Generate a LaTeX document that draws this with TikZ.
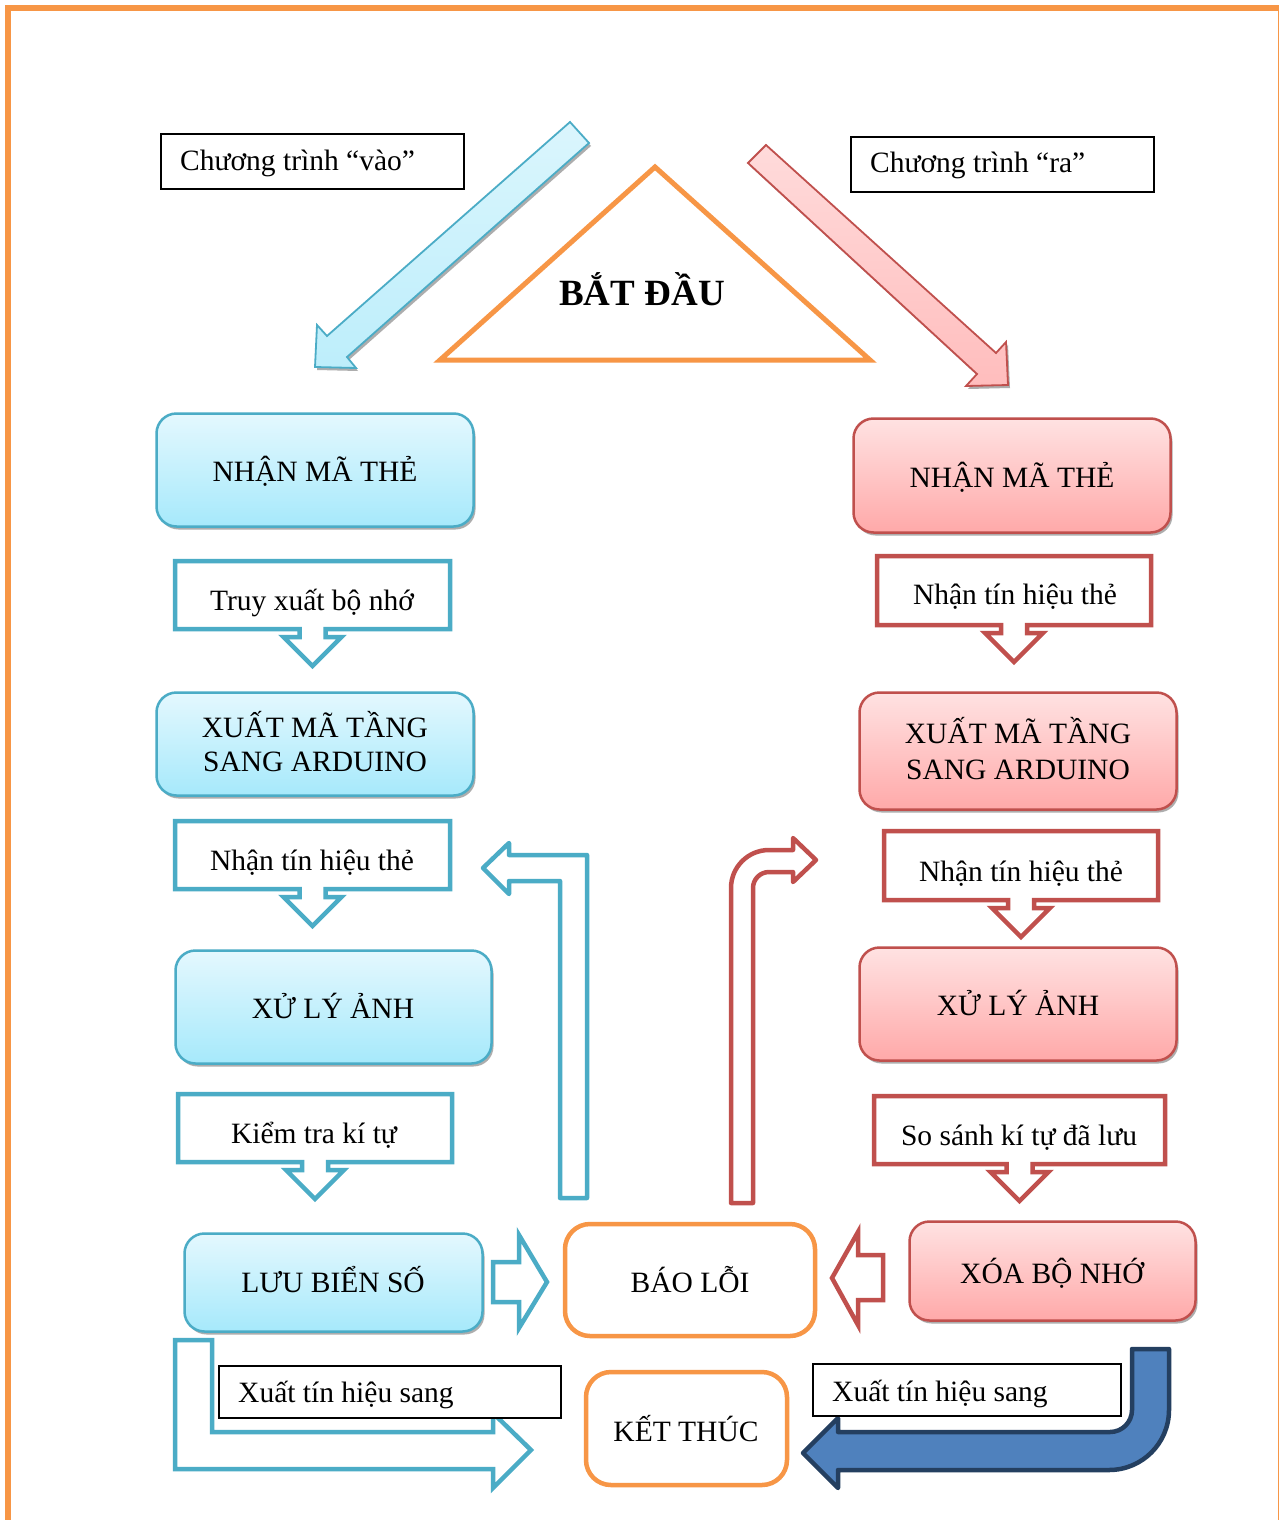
\documentclass[tikz,border=0pt]{standalone}
\usepackage{fontspec}
\setmainfont{Liberation Serif}
\usetikzlibrary{shadows}
\definecolor{cblue}{HTML}{4BACC6}
\definecolor{cred}{HTML}{C0504D}
\definecolor{corange}{HTML}{F79646}
\definecolor{navyfill}{HTML}{4F81BD}
\definecolor{navyline}{HTML}{243F60}
\definecolor{bluetop}{HTML}{E4F8FE}
\definecolor{bluebot}{HTML}{A6E9FB}
\definecolor{redtop}{HTML}{FFE2E2}
\definecolor{redbot}{HTML}{FFA9A9}
\definecolor{diagblue}{HTML}{BDEEFB}
\definecolor{diagred}{HTML}{FFBDBD}

% down-pointing callout: colour, left, top, right, bottom (line centres)
\newcommand\dncall[5]{%
  \draw[#1, line width=4.5pt, fill=white, line join=miter]
    (#2,#3) -- (#4,#3) -- (#4,#5) -- ({(#2+#4)/2+13},#5) -- ++(0,8) -- ++(16,0)
    -- ({(#2+#4)/2},{#5+37}) -- ({(#2+#4)/2-29},{#5+8}) -- ++(16,0) -- ++(0,-8)
    -- (#2,#5) -- cycle;}

\begin{document}
\begin{tikzpicture}[x=1pt,y=-1pt,
  txt/.style={font=\fontsize{29.5}{35}\selectfont, inner sep=0pt},
  shadowed/.style={drop shadow={shadow xshift=2pt,shadow yshift=-3pt,fill=black!40,opacity=.8}},
  bluebox/.style={draw=cblue, line width=2.5pt, rounded corners=20pt,
    top color=bluetop, bottom color=bluebot, shadowed},
  redbox/.style={draw=cred, line width=2.5pt, rounded corners=20pt,
    top color=redtop, bottom color=redbot, shadowed},
  endbox/.style={draw=corange, line width=4.5pt, rounded corners=25pt, fill=white},
  labelbox/.style={draw=black, line width=1.8pt, fill=white},
  hollowblue/.style={draw=cblue, line width=4.5pt, fill=white, line join=round},
  hollowred/.style={draw=cred, line width=4.5pt, fill=white, line join=round}]

\useasboundingbox (0,0) rectangle (1278,1520);
\fill[white] (0,0) rectangle (1278,1520);

% page frame
\draw[corange, line width=6pt] (8,8) rectangle (1281,1545);

% start triangle
\draw[corange, line width=5pt, line join=miter] (655,167) -- (870,360) -- (440,360) -- cycle;
\node[font=\fontsize{37}{40}\selectfont\bfseries, anchor=base, inner sep=0pt] (start) at (642,305) {BẮT ĐẦU};

% program labels
\node[labelbox, minimum width=303pt, minimum height=55pt, inner sep=0pt] (vaobox) at (312.5,161.5) {};
\node[txt, anchor=base west] (vao) at (180,170) {Chương trình “vào”};
\node[labelbox, minimum width=303pt, minimum height=55pt, inner sep=0pt] (rabox) at (1002.5,164.5) {};
\node[txt, anchor=base west] (ra) at (870,172) {Chương trình “ra”};

% diagonal entry arrows
\draw[cblue, line width=1.8pt, top color=diagblue!55, bottom color=diagblue, shadowed, line join=miter]
  (570,122) -- (589,143) -- (347,357) -- (356,368) -- (315,367) -- (317,325) -- (327,336) -- cycle;
\draw[cred, line width=1.8pt, top color=diagred!55, bottom color=diagred, shadowed, line join=miter]
  (766,145) -- (996,353) -- (1006,342) -- (1008,385) -- (966,386) -- (977,374) -- (748,163) -- cycle;

% left column
\node[bluebox, minimum width=317pt, minimum height=113pt] (l1) at (315,470) {};
\node[txt, anchor=base] (l1t) at (315,481) {NHẬN MÃ THẺ};
\dncall{cblue}{175}{561}{450}{629}
\node[txt, anchor=base] (l2t) at (312,610) {Truy xuất bộ nhớ};
\node[bluebox, minimum width=317pt, minimum height=103pt] (l3) at (315,744) {};
\node[txt, anchor=base] (l3a) at (315,737) {XUẤT MÃ TẦNG};
\node[txt, anchor=base] (l3b) at (315,771) {SANG ARDUINO};
\dncall{cblue}{175}{821}{450}{889}
\node[txt, anchor=base] (l4t) at (312,870) {Nhận tín hiệu thẻ};
\node[bluebox, minimum width=316pt, minimum height=113pt] (l5) at (333.5,1007) {};
\node[txt, anchor=base] (l5t) at (333,1018) {XỬ LÝ ẢNH};
\dncall{cblue}{178}{1094}{452}{1162}
\node[txt, anchor=base] (l6t) at (314,1143) {Kiểm tra kí tự};
\node[bluebox, minimum width=298pt, minimum height=98pt] (l7) at (333.5,1282.5) {};
\node[txt, anchor=base] (l7t) at (333,1292) {LƯU BIỂN SỐ};

% right column
\node[redbox, minimum width=317pt, minimum height=114pt] (r1) at (1012,475.5) {};
\node[txt, anchor=base] (r1t) at (1012,487) {NHẬN MÃ THẺ};
\dncall{cred}{877}{556}{1151}{625}
\node[txt, anchor=base] (r2t) at (1015,604) {Nhận tín hiệu thẻ};
\node[redbox, minimum width=317pt, minimum height=117pt] (r3) at (1018,751) {};
\node[txt, anchor=base] (r3a) at (1018,743) {XUẤT MÃ TẦNG};
\node[txt, anchor=base] (r3b) at (1018,779) {SANG ARDUINO};
\dncall{cred}{884}{831}{1158}{900}
\node[txt, anchor=base] (r4t) at (1021,881) {Nhận tín hiệu thẻ};
\node[redbox, minimum width=317pt, minimum height=113pt] (r5) at (1018,1004) {};
\node[txt, anchor=base] (r5t) at (1018,1015) {XỬ LÝ ẢNH};
\dncall{cred}{874}{1096}{1165}{1164}
\node[txt, anchor=base] (r6t) at (1019,1145) {So sánh kí tự đã lưu};
\node[redbox, minimum width=286pt, minimum height=99pt] (r7) at (1052.5,1271) {};
\node[txt, anchor=base] (r7t) at (1052,1283) {XÓA BỘ NHỚ};

% error and end boxes
\node[endbox, minimum width=250pt, minimum height=112pt] (err) at (690,1280) {};
\node[txt, anchor=base] (errt) at (690,1292) {BÁO LỖI};
\node[endbox, minimum width=201pt, minimum height=113pt] (fin) at (686.5,1428.5) {};
\node[txt, anchor=base] (fint) at (686,1441) {KẾT THÚC};

% return arrows from the error box
\draw[hollowblue] (587,1198) -- (587,855) -- (509,855) -- (509,843) -- (483,868)
  -- (509,894) -- (509,881) -- (560,881) -- (560,1198) -- cycle;
\draw[hollowred] (731,1203) [rounded corners=38pt] -- (731,850) [sharp corners] -- (793,850)
  -- (793,838) -- (816,860) -- (793,882) -- (793,872) [rounded corners=16pt] -- (753,872)
  [sharp corners] -- (753,1203) -- cycle;

% arrows into the error box
\draw[hollowblue, line join=miter] (493,1262) -- (519,1262) -- (519,1235) -- (547,1282)
  -- (519,1328) -- (519,1302) -- (493,1302) -- cycle;
\draw[hollowred, line join=miter] (883,1255) -- (858,1255) -- (858,1232) -- (832,1278)
  -- (858,1325) -- (858,1300) -- (883,1300) -- cycle;

% arrows into the end box
\draw[hollowblue, line join=miter] (175,1340) -- (212,1340) -- (212,1432) -- (493,1432)
  -- (493,1413) -- (531,1450) -- (493,1488) -- (493,1469) -- (175,1469) -- cycle;
\draw[navyline, line width=4.5pt, fill=navyfill, line join=round]
  (1169,1349) [rounded corners=60pt] -- (1169,1470) [sharp corners] -- (838,1470)
  -- (838,1488) -- (803,1453) -- (838,1418) -- (838,1432) [rounded corners=22pt]
  -- (1132,1432) [sharp corners] -- (1132,1349) -- cycle;

\node[labelbox, minimum width=342pt, minimum height=52pt, inner sep=0pt] (xlbox) at (390,1392) {};
\node[txt, anchor=base west] (xl) at (238,1402) {Xuất tín hiệu sang};
\node[labelbox, minimum width=308pt, minimum height=52pt, inner sep=0pt] (xrbox) at (967,1390) {};
\node[txt, anchor=base west] (xr) at (832,1401) {Xuất tín hiệu sang};

\end{tikzpicture}
\end{document}
